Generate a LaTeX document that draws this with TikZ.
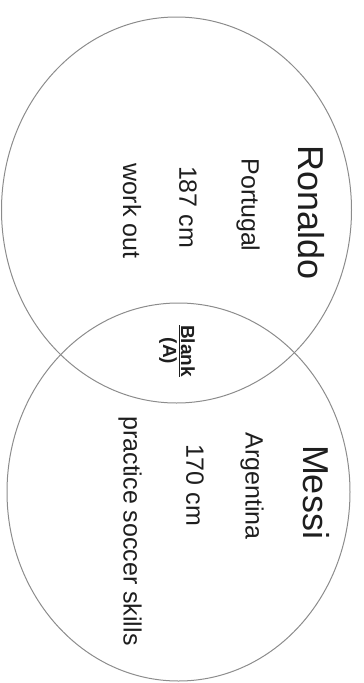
\documentclass[tikz,border=0pt]{standalone}
\usepackage{fontspec}
\setmainfont{Liberation Sans}
\usepackage{xcolor}
\usetikzlibrary{positioning}
\definecolor{ringgray}{HTML}{8C8C8C}
\definecolor{inkgray}{HTML}{1E1E1E}

\begin{document}
\begin{tikzpicture}[
  x=1pt,y=-1pt,
  ring/.style={draw=ringgray,line width=1pt},
  label/.style={
    rotate=-90,
    inner sep=0pt,
    text=inkgray
  },
  title/.style={label,font=\fontsize{36}{40}\selectfont},
  item/.style={label,font=\fontsize{25}{28}\selectfont},
  blank/.style={label,align=center,font=\bfseries\fontsize{19}{18}\selectfont}
]
\useasboundingbox (0,0) rectangle (364,683);
% the two sets
\draw[ring] (176.5,210) ellipse [x radius=175,y radius=193];
\draw[ring] (178.5,492) ellipse [x radius=171.5,y radius=189];
% Ronaldo side
\node[title] (ronaldo) at (311,213) {Ronaldo};
\node[item] (portugal) at (248,205) {Portugal};
\node[item] (ronaldoheight) at (188,207) {187 cm};
\node[item] (workout) at (132,211) {work out};
% overlap
\node[blank] (overlap) at (177,351) {\underline{Blank}\\(A)};
% Messi side
\node[title] (messi) at (316,492) {Messi};
\node[item] (argentina) at (252,486) {Argentina};
\node[item] (messiheight) at (195,485) {170 cm};
\node[item] (practice) at (130,531) {practice soccer skills};
\end{tikzpicture}
\end{document}
